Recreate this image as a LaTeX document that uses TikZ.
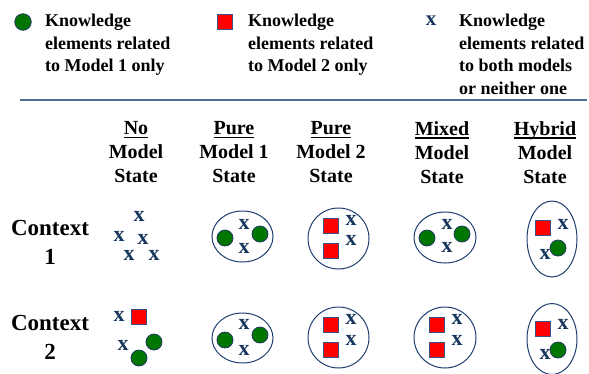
\documentclass[tikz,border=0pt]{standalone}
\usepackage{fontspec}
\setmainfont{Liberation Serif}
\usetikzlibrary{shapes.geometric}
\definecolor{mgreen}{RGB}{0,118,0}
\definecolor{cnavy}{RGB}{31,56,100}
\definecolor{xblue}{RGB}{23,54,93}
\definecolor{ellblue}{RGB}{31,62,112}
\definecolor{sqborder}{RGB}{60,82,130}
\definecolor{rulecol}{RGB}{79,110,150}
\newcommand{\myul}[1]{\setbox0\hbox{#1}\rlap{\vrule width\wd0 height -1.6pt depth 3.1pt}\box0}
\tikzset{
  gc/.style={circle, fill=mgreen, draw=cnavy, line width=0.8pt, minimum size=16pt, inner sep=0pt},
  rs/.style={rectangle, fill=red, draw=sqborder, line width=0.8pt, minimum size=15.5pt, inner sep=0pt},
  xm/.style={text=xblue, font=\fontsize{22}{22}\selectfont\bfseries, inner sep=0pt},
  xl/.style={text=xblue, font=\fontsize{21}{21}\selectfont\bfseries, inner sep=0pt},
  ell/.style={ellipse, draw=ellblue, line width=1pt, inner sep=0pt},
  legtext/.style={anchor=north west, align=left, inner sep=0pt, font=\fontsize{18}{22.6}\selectfont\bfseries},
  head/.style={anchor=north, align=center, inner sep=0pt, font=\fontsize{20}{24}\selectfont\bfseries},
  ctx/.style={anchor=north, align=center, inner sep=0pt, font=\fontsize{23}{29}\selectfont\bfseries}
}
\begin{document}
\begin{tikzpicture}[x=1pt, y=-1pt]
\useasboundingbox (0,0) rectangle (589,373);
% legend
\node[gc, minimum size=16.5pt] (lg) at (23,22) {};
\node[legtext] (lt1) at (45,13.8) {Knowledge\\elements related\\to Model 1 only};
\node[rs, minimum size=15pt] (lr) at (225,22) {};
\node[legtext] (lt2) at (248,13.8) {Knowledge\\elements related\\to Model 2 only};
\node[xl] (lx) at (431,21) {x};
\node[legtext] (lt3) at (459,13.8) {Knowledge\\elements related\\to both models\\or neither one};
\coordinate (r1) at (20,100);
\coordinate (r2) at (587,100);
\draw[rulecol, line width=1.5pt] (r1) -- (r2);
% headers
\node[head] (h1) at (136,121.6) {\myul{No}\\Model\\State};
\node[head] (h2) at (234,121.6) {\myul{Pure}\\Model 1\\State};
\node[head] (h3) at (331,121.6) {\myul{Pure}\\Model 2\\State};
\node[head] (h4) at (442,121.6) {\myul{Mixed}\\Model\\State};
\node[head] (h5) at (545,121.6) {\myul{Hybrid}\\Model\\State};
% context labels
\node[ctx] (c1) at (50,220.5) {Context\\1};
\node[ctx] (c2) at (50,315.5) {Context\\2};
% row 1: no model
\node[xm] (a1) at (139,216) {x};
\node[xm] (a2) at (119,236) {x};
\node[xm] (a3) at (143,239) {x};
\node[xm] (a4) at (129,255) {x};
\node[xm] (a5) at (154,255) {x};
% row 1: pure model 1
\node[ell, minimum width=61pt, minimum height=51pt] (e12) at (242.5,236.5) {};
\node[gc] (b1) at (225,238) {};
\node[gc] (b2) at (260,234) {};
\node[xm] (b3) at (244,224) {x};
\node[xm] (b4) at (244,248) {x};
% row 1: pure model 2
\node[ell, minimum width=61pt, minimum height=61pt] (e13) at (338.5,238.5) {};
\node[rs] (d1) at (331,226) {};
\node[rs] (d2) at (331,251) {};
\node[xm] (d3) at (351,220) {x};
\node[xm] (d4) at (351,240) {x};
% row 1: mixed
\node[ell, minimum width=62pt, minimum height=51pt] (e14) at (445,237.5) {};
\node[gc] (f1) at (427,238) {};
\node[gc] (f2) at (462,234) {};
\node[xm] (f3) at (447,224) {x};
\node[xm] (f4) at (447,247) {x};
% row 1: hybrid
\node[ell, minimum width=50pt, minimum height=76pt] (e15) at (552,239) {};
\node[rs] (g1) at (543,228) {};
\node[xm] (g2) at (563,224) {x};
\node[gc] (g3) at (558,248) {};
\node[xm] (g4) at (545,254) {x};
% row 2: no model
\node[xm] (p1) at (119,316) {x};
\node[rs, minimum size=15pt] (p2) at (139,317) {};
\node[xm] (p3) at (123,345) {x};
\node[gc] (p4) at (154,342) {};
\node[gc] (p5) at (139,358) {};
% row 2: pure model 1
\node[ell, minimum width=61pt, minimum height=50pt] (e22) at (242.5,338) {};
\node[gc] (q1) at (225,340) {};
\node[gc] (q2) at (260,335) {};
\node[xm] (q3) at (244,324) {x};
\node[xm] (q4) at (244,350) {x};
% row 2: pure model 2
\node[ell, minimum width=61pt, minimum height=61pt] (e23) at (338.5,337.5) {};
\node[rs] (s1) at (331,325) {};
\node[rs] (s2) at (331,350) {};
\node[xm] (s3) at (351,319) {x};
\node[xm] (s4) at (351,340) {x};
% row 2: mixed
\node[ell, minimum width=62pt, minimum height=61pt] (e24) at (445,337.5) {};
\node[rs] (t1) at (437,325) {};
\node[rs] (t2) at (437,350) {};
\node[xm] (t3) at (457,319) {x};
\node[xm] (t4) at (457,340) {x};
% row 2: hybrid
\node[ell, minimum width=50pt, minimum height=71pt] (e25) at (552,339) {};
\node[rs] (u1) at (543,329) {};
\node[xm] (u2) at (563,324) {x};
\node[gc] (u3) at (558,350) {};
\node[xm] (u4) at (545,354) {x};
\end{tikzpicture}
\end{document}
